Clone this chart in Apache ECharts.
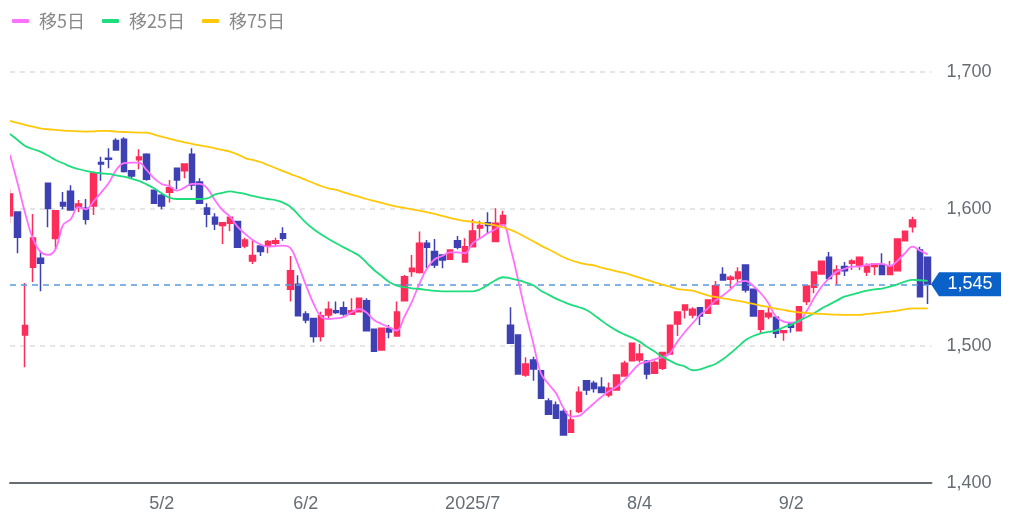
<!DOCTYPE html>
<html>
<head>
<meta charset="utf-8">
<title>chart</title>
<script src="https://cdn.jsdelivr.net/npm/echarts@6/dist/echarts.min.js"></script>
<style>
  html, body { margin: 0; padding: 0; background: #fff; }
  #chart { width: 1024px; height: 525px; }
</style>
</head>
<body>
<div id="chart"></div>
<script>
  // tick labels: candle index -> label
  var tickIndex  = [20, 39, 61, 83, 103];
  var tickLabels = ['5/2', '6/2', '2025/7', '8/4', '9/2'];
  var yTicks     = { min: 1400, max: 1700, step: 100 };
  var lastPrice  = 1545;

  var candleOpen = [
    1595,1597.8,1508,1557.5,1564,1618.8,1578.4,1604.7,1613,1601.3,
    1600.5,1602.2,1634,1637,1650,1650.9,1628,1636,1640,1613.7,
    1610,1612.2,1629.7,1628,1640,1619.7,1600.8,1594,1588,1589.6,
    1590.8,1573,1562,1573,1573,1575,1582,1541.4,1545,1523.4,
    1520,1506.9,1522.7,1525.8,1528,1523.2,1525,1533.1,1512.2,1497.1,
    1512.7,1507.3,1533.1,1554.3,1553.6,1575,1568.9,1566.5,1563.3,1576.9,
    1561.3,1572.5,1586.2,1590,1576.2,1589,1515.1,1508,1478.9,1489.8,
    1482,1459.9,1457,1452.1,1437,1452.1,1474.7,1472.8,1469.9,1464.3,
    1467.9,1478.1,1489.3,1489.8,1488.8,1480.1,1483.7,1494.2,1516.1,1526.3,
    1522.7,1528,1523.9,1530.7,1552.1,1548.7,1549.2,1559.2,1541.4,1512.2,
    1521.4,1521,1509.8,1516.1,1511.2,1532.4,1542.9,1552.6,1564.8,1552.6,
    1558,1560.4,1558.4,1554,1558,1559.2,1552.1,1555,1576.9,1587.1,
    1570.1,1564.8
  ];
  var candleClose = [
    1611,1579.4,1515,1578.9,1560.4,1600.3,1598.8,1602.2,1599.3,1603.7,
    1592.5,1626,1632.9,1636.3,1643,1627.3,1624,1638,1621.7,1604.2,
    1602.2,1615.6,1621.2,1632.9,1617.6,1604.2,1596.1,1589,1590,1594,
    1572,1577.4,1566,1568.9,1576.2,1576.9,1578.6,1555,1522,1519,
    1506.9,1522,1526.8,1524.4,1523.4,1525.8,1534.8,1511.2,1496.1,1512.9,
    1510.2,1524.9,1550.6,1556.7,1575,1572,1559.2,1562.8,1570,1572,
    1572.5,1584,1588,1588,1589.6,1595.2,1502,1479.6,1486.9,1483.2,
    1461.8,1450.2,1447.2,1435,1446,1466.2,1467.9,1468.9,1466,1469.1,
    1478.9,1487.4,1502,1494.2,1479.6,1487.9,1495.2,1515.1,1524.8,1530,
    1526.8,1521.9,1533.6,1544,1548.2,1550.2,1554,1540.9,1521.9,1525.8,
    1523.9,1509.3,1511.2,1513.7,1528.7,1543.8,1554,1561.8,1549.2,1555.5,
    1555,1562,1564.8,1558.4,1559.9,1552.1,1557.9,1578.1,1583.7,1592,
    1536,1545
  ];
  var candleLow = [
    1589.6,1567.7,1484.5,1546.7,1540,1586.7,1570.6,1599.8,1598.8,1597.8,
    1588.6,1595.7,1620.7,1629.7,1642.6,1626.6,1622.4,1629,1620.7,1603.7,
    1599.8,1604.7,1614.4,1622.4,1613.9,1604,1586.7,1584.7,1574.5,1583.7,
    1572,1571.3,1559.9,1565.7,1567.7,1573.8,1576.9,1532.4,1522,1516.6,
    1502.5,1503.2,1520.2,1523.4,1522,1523,1525,1511,1496.1,1497.1,
    1505.6,1507,1533.1,1550.6,1553,1557,1557,1556.7,1563.3,1570.6,
    1561,1572,1578.6,1581.8,1575.7,1589,1502,1479.6,1477.6,1474.7,
    1461.8,1449.7,1447,1435,1437,1450.9,1464.3,1466,1465.5,1462.6,
    1467.4,1478,1489.3,1487.9,1475.7,1480.1,1482.5,1494.2,1507.3,1520,
    1520.2,1515.4,1523.9,1530.7,1548.2,1542.1,1545.8,1539,1521.9,1508.8,
    1519.5,1505.9,1503.9,1509.8,1511.2,1530,1538.5,1552.6,1548.2,1544.6,
    1551.1,1555.5,1555.5,1551.1,1551.6,1552.1,1552.1,1555,1576.9,1582.8,
    1536,1530.7
  ];
  var candleHigh = [
    1614.6,1598,1546,1596.4,1569.6,1619,1599,1612.4,1617.3,1606.6,
    1607.3,1627.3,1638.2,1644.3,1651.6,1652.3,1628,1643.6,1640.7,1613.7,
    1611,1621.2,1629.7,1633,1644.3,1622.4,1604.2,1596.9,1590,1594,
    1590.8,1579,1577.4,1573,1577.4,1579,1586.7,1565.7,1551.6,1525.3,
    1520,1525,1532.4,1532.4,1532.4,1534.8,1534.8,1534.8,1512.2,1512.9,
    1515.4,1532.4,1551.9,1566.5,1583.5,1577.4,1578.1,1567,1570,1580.3,
    1578.6,1592.5,1591.5,1597.6,1600.5,1598.8,1528.3,1508,1491.8,1492.2,
    1482,1461.8,1459.4,1453.8,1453.3,1470.4,1475,1474.7,1477.2,1473.3,
    1478.9,1489.3,1502,1501.5,1489.8,1489.5,1495.2,1515.1,1524.8,1530,
    1528.3,1528,1533.6,1547.5,1557.5,1551.6,1557.5,1559.2,1541.4,1525.8,
    1528.3,1521,1511.2,1516.6,1528.7,1543.8,1554,1561.8,1568.6,1558.9,
    1561.3,1563.3,1564.8,1560.4,1559.9,1567.7,1562,1578.1,1583.7,1594.4,
    1572.5,1564.8
  ];

  var ma5 = [
    1639.5,1618.8,1596.9,1578.6,1568.9,1566.5,1570.6,1588.4,1592.5,1601.3,
    1599.8,1605.4,1612,1618.8,1628.5,1633.4,1633.9,1633.9,1628.5,1622.4,
    1618.3,1616.8,1613.4,1615.6,1618.3,1618.3,1615.1,1606.6,1599.3,1594.4,
    1587.1,1581.8,1577.4,1574.2,1572.5,1573,1573.3,1571.3,1559.2,1544.6,
    1531.2,1521.4,1519.7,1520.2,1521.2,1524.4,1527,1524.4,1519,1516.1,
    1513.7,1511.2,1521.4,1532.4,1545.8,1556.7,1563.3,1565.7,1568.4,1568.4,
    1567.7,1575,1578.6,1582.3,1585.2,1588.4,1571.3,1548.2,1523.9,1502,
    1480.1,1472.3,1465.5,1454.5,1448.5,1449,1453.3,1458.2,1463,1467.2,
    1470.3,1475.2,1481.3,1486.9,1488.4,1490.3,1491.8,1494.7,1503.2,1510.3,
    1516.6,1522.7,1527.5,1533.1,1536.8,1541.4,1546.3,1547.5,1543.8,1538.5,
    1531.2,1521.4,1517.8,1517,1517.8,1525.1,1534.8,1543.3,1549.4,1554.3,
    1556.2,1558,1558,1559.2,1559.9,1559.9,1558.4,1562.1,1567.7,1572.5,
    1569.6,1566.9
  ];
  var ma25 = [
    1654.8,1650.4,1646,1643.8,1641.9,1639,1635.8,1633.4,1630.9,1629.2,
    1627.8,1626.8,1626.1,1625.6,1624.6,1623.6,1622.2,1620.5,1618,1615.1,
    1611.5,1608.3,1607.3,1607.3,1607.3,1607.3,1607.8,1610.5,1611.7,1612.9,
    1612,1611,1609.5,1608.3,1607.3,1606.4,1604.7,1601.5,1595.9,1590,
    1585.4,1581.5,1578.1,1575,1572,1569.1,1566,1560.9,1555.5,1551.1,
    1546.7,1544.1,1542.9,1542.1,1541.6,1540.9,1540.2,1539.9,1539.9,1539.9,
    1539.9,1539.9,1541.4,1544.6,1548,1550.2,1549.4,1548,1546.3,1544.3,
    1540.4,1537.5,1534.6,1532.2,1530,1528.3,1526.3,1522.7,1518.5,1514.6,
    1511.2,1508.5,1506.1,1503.2,1499.5,1495.9,1492.2,1489.3,1486.6,1485,
    1482.3,1483,1484.9,1486.9,1490.3,1494.7,1499.5,1504.4,1507.3,1509.3,
    1510.3,1511.2,1513.7,1515.4,1518.5,1521,1523.9,1527.3,1530.2,1533.1,
    1536,1537.5,1539,1540.4,1541.4,1541.9,1543.3,1545,1547,1548.2,
    1548,1547.5
  ];
  var ma75 = [
    1664.3,1662.8,1661.4,1660.1,1658.9,1658.2,1657.7,1657.2,1657,1656.7,
    1656.5,1656.7,1657,1657,1656.5,1656.2,1656,1655.8,1655.8,1654.3,
    1652.8,1651.4,1649.9,1648.7,1647.5,1646.5,1645.5,1644.3,1643.1,1641.9,
    1639.9,1637.2,1635.8,1634.3,1632.1,1629.9,1627.7,1625.5,1623.4,1621.2,
    1619,1616.8,1615,1613.9,1612.2,1610.5,1609,1607.3,1605.9,1604.4,
    1603,1601.7,1600.8,1599.8,1598.8,1597.6,1596.4,1594.9,1593.5,1592.2,
    1591.3,1590.5,1589.8,1589,1588.1,1586.6,1584.7,1582.3,1579.4,1576.4,
    1573.3,1570.6,1567.7,1564.8,1562.6,1560.9,1559.6,1558.9,1557.2,1556,
    1554.5,1553.3,1551.6,1549.9,1548.2,1546.5,1544.8,1543.3,1541.6,1541,
    1540.4,1538.7,1537,1535.8,1534.8,1533.9,1532.9,1531.9,1530.7,1529.5,
    1528.5,1527.3,1526.3,1525.3,1524.6,1524.1,1523.6,1523.4,1523.1,1522.9,
    1522.7,1522.7,1522.7,1523.4,1523.9,1524.6,1525.1,1525.8,1526.8,1527.5,
    1527.5,1527.5
  ];

  var UP = '#ff2d5a', DOWN = '#3e41b4';
  var AXIS_FONT = '"Liberation Sans", Arial, sans-serif';
  var AXIS_COLOR = '#666c74';
  var X_END = 121.5; // half a step past the last candle

  var candles = candleOpen.map(function(o, i) {
    return [i, o, candleClose[i], candleLow[i], candleHigh[i]];
  });

  function maSeries(name, data, color) {
    return {
      name: name, type: 'line', symbol: 'none', smooth: 0.4, z: 5,
      data: data.map(function(v, i) { return [i, v]; }),
      lineStyle: { color: color, width: 1.8 }, itemStyle: { color: color }
    };
  }

  function comma(v) {
    return v.toLocaleString('en-US');
  }

  var chart = echarts.init(document.getElementById('chart'));
  chart.setOption({
    animation: false,
    backgroundColor: '#fff',
    legend: {
      left: 7, top: 7, itemWidth: 17, itemHeight: 4, itemGap: 17,
      icon: 'roundRect',
      data: ['移5日', '移25日', '移75日'],
      textStyle: { fontFamily: '"Noto Sans CJK JP"', fontSize: 18, color: '#888', padding: [0, 0, 0, 5] }
    },
    grid: { left: 10, top: 72, width: 921.5, height: 411 },
    xAxis: {
      type: 'value', min: 0, max: X_END,
      splitLine: { show: false },
      axisLine: { lineStyle: { color: AXIS_COLOR, width: 2 } },
      axisTick: { show: false },
      axisLabel: {
        customValues: tickIndex, margin: 12, fontSize: 18, color: AXIS_COLOR, fontFamily: AXIS_FONT,
        showMinLabel: true, showMaxLabel: true,
        formatter: function(v) { return tickLabels[tickIndex.indexOf(v)]; }
      }
    },
    yAxis: {
      type: 'value', position: 'right',
      min: yTicks.min, max: yTicks.max, interval: yTicks.step,
      axisLine: { show: false }, axisTick: { show: false },
      axisLabel: { margin: 15, fontSize: 18, color: AXIS_COLOR, fontFamily: AXIS_FONT, formatter: comma },
      splitLine: { lineStyle: { color: '#ddd', width: 1.5, type: [5, 5] } }
    },
    // candlestick only clips whole candles, this trims the first one at the plot edge
    graphic: [{
      type: 'rect', left: 0, top: 150, z: 100, silent: true,
      shape: { width: 10, height: 80 }, style: { fill: '#fff' }
    }],
    series: [
      {
        name: '株価', type: 'candlestick', data: candles, barWidth: 6, z: 3,
        itemStyle: { color: UP, color0: DOWN, borderColor: UP, borderColor0: DOWN, borderWidth: 1.5 },
        markLine: {
          silent: true, symbol: 'none', animation: false, z: 4,
          lineStyle: { color: '#5b9bdc', width: 1.5, type: [6, 5] },
          label: { show: false },
          data: [{ yAxis: lastPrice }]
        },
        markPoint: {
          silent: true, animation: false, z: 6,
          symbol: 'path://M0 12L8 0H70V24H8Z',
          symbolSize: [70, 24],
          symbolOffset: [34.5, 0],
          itemStyle: { color: '#0a62c9' },
          label: {
            show: true, color: '#fff', fontSize: 18, fontFamily: AXIS_FONT,
            offset: [4, 0],
            formatter: function() { return comma(lastPrice); }
          },
          data: [{ coord: [X_END, lastPrice] }]
        }
      },
      maSeries('移5日', ma5, '#ff70ff'),
      maSeries('移25日', ma25, '#1fdc7c'),
      maSeries('移75日', ma75, '#ffc80a')
    ]
  });
</script>
</body>
</html>
